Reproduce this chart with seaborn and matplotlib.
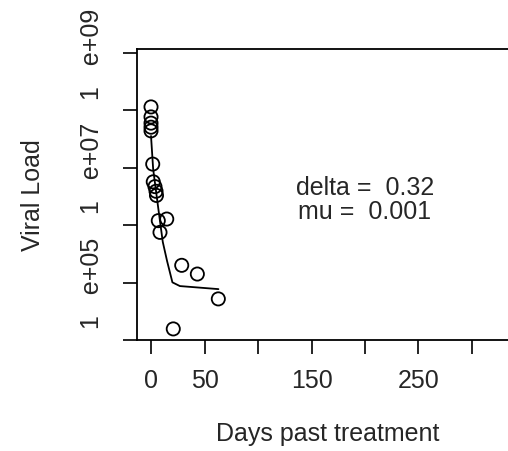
import matplotlib
matplotlib.use("Agg")
import matplotlib.pyplot as plt
import seaborn as sns
import pandas as pd

# observed viral load (copies) vs days past treatment
days = [0, 0, 0, 0, 0, 1.6, 2.1, 3.7, 4.7, 5.1, 6.8, 14.7, 8.4, 28.7, 43.3, 62.9, 20.8]
viral_load = [1.15e8, 7.7e7, 6.0e7, 5.1e7, 4.4e7, 1.16e7, 5.7e6, 4.7e6, 3.9e6, 3.3e6,
              1.2e6, 1.28e6, 7.5e5, 2.0e5, 1.41e5, 5.2e4, 1.56e4]

# fitted model curve
fit_days = [0, 2, 6.5, 11, 15, 20, 27, 63]
fit_load = [3.58e7, 9.5e6, 2.16e6, 5.1e5, 2.38e5, 1.01e5, 8.7e4, 7.7e4]

x_ticks = [0, 50, 100, 150, 200, 250, 300]
x_labels = ["0", "50", "", "150", "", "250", ""]
y_ticks = [1e4, 1e5, 1e6, 1e7, 1e8, 1e9]
y_labels = ["", "1   e+05", "", "1   e+07", "", "1   e+09"]

delta = 0.32
mu = 0.001

sns.set_style("white")
plt.rcParams['font.family'] = ['Liberation Sans', 'DejaVu Sans']
plt.rcParams['font.size'] = 18

obs = pd.DataFrame({'days': days, 'load': viral_load})
fit = pd.DataFrame({'days': fit_days, 'load': fit_load})

fig = plt.figure(figsize=(5.08, 4.52), dpi=100)
ax = fig.add_axes([137 / 508, (452 - 341) / 452, 381 / 508, 291 / 452])

sns.lineplot(data=fit, x='days', y='load', ax=ax, color='black', linewidth=1.3,
             sort=False, estimator=None)
sns.scatterplot(data=obs, x='days', y='load', ax=ax, marker='o', s=90,
                facecolor='none', edgecolor='black', linewidth=1.3)

ax.set_yscale('log')
ax.set_xlim(-13.1, 343)
ax.set_ylim(1e4, 10 ** (9 + 4 / 57.4))
ax.minorticks_off()

ax.set_xticks(x_ticks)
ax.set_xticklabels(x_labels)
ax.set_yticks(y_ticks)
ax.set_yticklabels(y_labels, rotation=90, va='center')

ax.tick_params(axis='both', direction='out', length=10, width=1.2, color='black',
               labelsize=18, left=True, bottom=True)
ax.tick_params(axis='x', pad=10)
ax.tick_params(axis='y', pad=14)

for sp in ax.spines.values():
    sp.set_visible(True)
    sp.set_color('black')
    sp.set_linewidth(1.3)

ax.set_xlabel('Days past treatment', fontsize=18)
ax.set_ylabel('Viral Load', fontsize=18)
ax.xaxis.set_label_coords(0.5, -0.28)
ax.yaxis.set_label_coords(-0.2415, 0.5)

ax.text(200, 10 ** 6.666, f"delta =  {delta}", ha='center', va='center', fontsize=18)
ax.text(200, 10 ** 6.247, f"mu =  {mu}", ha='center', va='center', fontsize=18)

fig.savefig('out.png', dpi=100)
plt.close(fig)
